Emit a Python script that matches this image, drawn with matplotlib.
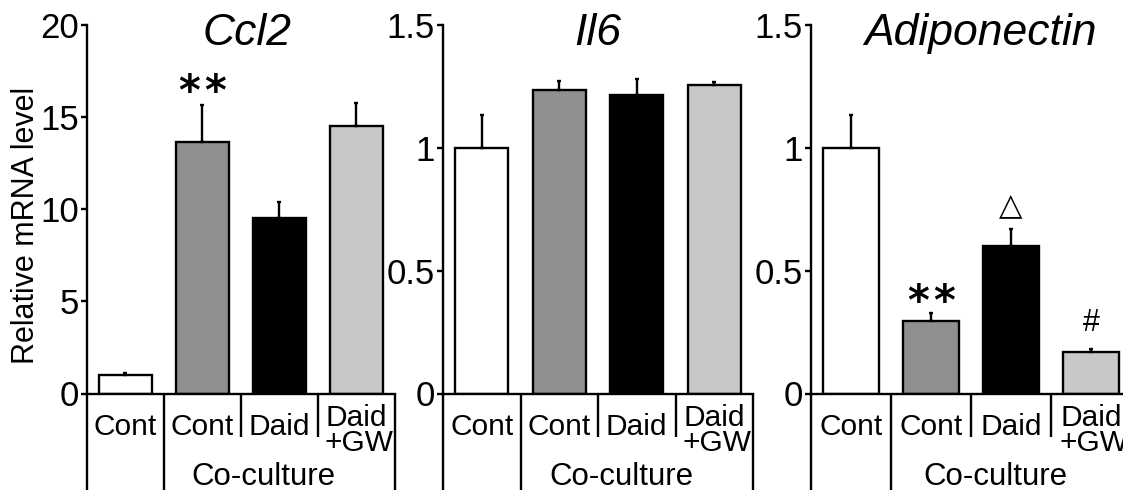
import matplotlib
matplotlib.use("Agg")
import matplotlib.pyplot as plt
import matplotlib.transforms as mtransforms

plt.rcParams['font.family'] = ['Liberation Sans', 'DejaVu Sans']

# ---- data ----
groups = ["Cont", "Cont", "Daid", "Daid\n+GW"]
group_label = "Co-culture"
bar_colors = ["#ffffff", "#909090", "#000000", "#c8c8c8"]

titles = ["Ccl2", "Il6", "Adiponectin"]

ccl2_vals = [1.03, 13.66, 9.51, 14.53]
ccl2_err = [0.06, 2.0, 0.91, 1.21]
il6_vals = [1.0, 1.237, 1.214, 1.255]
il6_err = [0.132, 0.034, 0.065, 0.012]
adipo_vals = [1.0, 0.294, 0.602, 0.168]
adipo_err = [0.133, 0.032, 0.066, 0.014]

ccl2_ticks = [0, 5, 10, 15, 20]
ccl2_ticklabels = ["0", "5", "10", "15", "20"]
small_ticks = [0, 0.5, 1, 1.5]
small_ticklabels = ["0", "0.5", "1", "1.5"]

# annotations: (panel, text, bar index, y of glyph centre)
annotations = [
    (0, "**", 1, 17.0),
    (2, "**", 1, 0.423),
    (2, "\u25b3", 2, 0.765),
    (2, "#", 3, 0.285),
]

vals_list = [ccl2_vals, il6_vals, adipo_vals]
err_list = [ccl2_err, il6_err, adipo_err]
ylims = [20, 1.5, 1.5]
ticks_list = [ccl2_ticks, small_ticks, small_ticks]
ticklabels_list = [ccl2_ticklabels, small_ticklabels, small_ticklabels]

W, H = 1123, 490
fig = plt.figure(figsize=(W / 100, H / 100), dpi=100)
boxes = [(87.0, 307.5), (443.0, 310.0), (811.0, 320.0)]
bottom = 1 - 393.5 / H
height = (393.5 - 25.0) / H
title_x = [0.52, 0.5, 0.528]

lw = 1.7
axes = []
for i in range(3):
    l, w = boxes[i]
    ax = fig.add_axes([l / W, bottom, w / W, height])
    axes.append(ax)
    x = list(range(len(groups)))
    ax.bar(x, vals_list[i], width=0.69, color=bar_colors, edgecolor="black",
           linewidth=lw, zorder=2)
    ax.errorbar(x, vals_list[i], yerr=[[0] * 4, err_list[i]], fmt="none",
                ecolor="black", elinewidth=lw, capsize=1.5, capthick=lw, zorder=3)
    ax.set_xlim(-0.5, 3.5)
    ax.set_ylim(0, ylims[i])
    ax.set_yticks(ticks_list[i])
    ax.set_yticklabels(ticklabels_list[i])
    ax.set_xticks([])
    for s in ["top", "right"]:
        ax.spines[s].set_visible(False)
    ax.spines["left"].set_linewidth(lw)
    ax.spines["bottom"].set_linewidth(lw)
    ax.tick_params(axis="y", direction="out", length=4, width=lw, pad=2,
                   labelsize=25)
    ax.patch.set_visible(False)

    ax.text(title_x[i], 0.945, titles[i], transform=ax.transAxes,
            ha="center", va="baseline", fontsize=32, style="italic")

    trans = mtransforms.blended_transform_factory(ax.transData, ax.transAxes)
    for xs, yb in [(-0.5, -0.4), (0.5, -0.4), (1.5, -0.117), (2.5, -0.117), (3.5, -0.4)]:
        ax.plot([xs, xs], [0, yb], transform=trans, color="black", lw=lw,
                clip_on=False, solid_capstyle="butt")
    for j, g in enumerate(groups):
        if "\n" in g:
            top, bot = g.split("\n")
            ax.text(j, -0.066, top, transform=trans, ha="center", va="center",
                    fontsize=21.5)
            ax.text(j + 0.04, -0.135, bot, transform=trans, ha="center",
                    va="center", fontsize=21.5)
        else:
            ax.text(j, -0.092, g, transform=trans, ha="center", va="center",
                    fontsize=21.5)
    ax.text(1.8, -0.226, group_label, transform=trans, ha="center",
            va="center", fontsize=22.5)

for p, t, j, y in annotations:
    ax = axes[p]
    if t == "**":
        fs = 30
        for dx in (-9.5, 9.5):
            tr = mtransforms.offset_copy(ax.transData, fig=fig, x=dx,
                                         y=-0.6 * fs, units="points")
            ax.text(j, y, "*", ha="center", va="baseline", fontsize=fs,
                    fontweight="bold", transform=tr, family=["DejaVu Sans"])
    else:
        ax.text(j, y, t, ha="center", va="center", fontsize=22,
                family=["DejaVu Sans"] if t == "\u25b3" else ["Liberation Sans"])

fig.text(26 / W, 1 - 225 / H, "Relative mRNA level", rotation=90,
         ha="center", va="center", fontsize=22)

fig.savefig("out.png", dpi=100)
